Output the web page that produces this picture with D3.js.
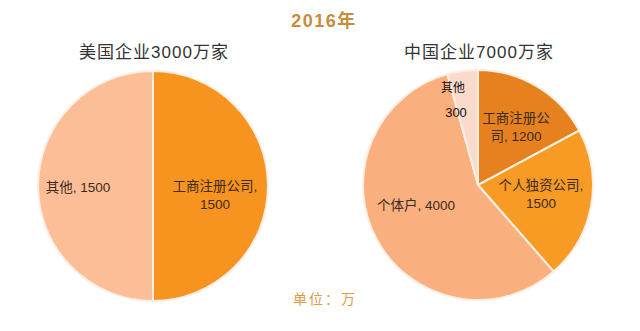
<!DOCTYPE html>
<html><head><meta charset="utf-8">
<script src="https://cdn.jsdelivr.net/npm/d3@7"></script>
<style>body{margin:0;background:#fff;}svg{display:block;font-family:"Liberation Sans","Noto Sans CJK SC",sans-serif;}</style>
</head><body>
<svg id="c" width="640" height="331"></svg>
<script>
const title = "2016年";
const unitLabel = "单位：万";
const usTitle = "美国企业3000万家";
const usCategories = ["工商注册公司", "其他"];
const usValues = [1500, 1500];
const cnTitle = "中国企业7000万家";
const cnCategories = ["工商注册公司", "个人独资公司", "个体户", "其他"];
const cnValues = [1200, 1500, 4000, 300];

const usColors = ["#F7931F", "#FBBE96"];
const cnColors = ["#E5821F", "#F89B25", "#F9B07E", "#FBDACB"];

const svg = d3.select("#c");
svg.append("text").attr("x", 324).attr("y", 27).attr("text-anchor", "middle")
  .attr("font-size", 18).attr("font-weight", "bold").attr("letter-spacing", 1.5)
  .attr("fill", "#C98B3C").text(title);
svg.append("text").attr("x", 325).attr("y", 304).attr("text-anchor", "middle")
  .attr("font-size", 14).attr("letter-spacing", 2).attr("fill", "#E39A45").text(unitLabel);

const R = 115;
const pie = d3.pie().sort(null).value(d => d.v);
const arc = d3.arc().innerRadius(0).outerRadius(R);

function drawPie(cx, cy, cats, vals, colors, ttl, labels) {
  svg.append("text").attr("x", cx + 1).attr("y", 58).attr("text-anchor", "middle")
    .attr("font-size", 17).attr("letter-spacing", 1).attr("fill", "#333").text(ttl);
  const g = svg.append("g").attr("transform", `translate(${cx},${cy})`);
  const data = cats.map((c, i) => ({c, v: vals[i], col: colors[i]}));
  g.selectAll("path").data(pie(data)).join("path")
    .attr("d", arc).attr("fill", d => d.data.col)
    .attr("stroke", "#FDEFE4").attr("stroke-width", 2);
  labels.forEach(l => {
    l.lines.forEach((s, k) => g.append("text").attr("text-anchor", l.anchor || "middle")
      .attr("font-size", l.size || 13.5).attr("fill", l.fill || "#3D2B1C")
      .attr("x", l.dx).attr("y", l.dy + k * 18).text(s));
  });
}

drawPie(153, 186, usCategories, usValues, usColors, usTitle, [
  {dx: -75, dy: 6, lines: [`${usCategories[1]}, ${usValues[1]}`]},
  {dx: 62, dy: 5, lines: [usCategories[0] + ",", String(usValues[0])]}
]);

drawPie(478, 185, cnCategories, cnValues, cnColors, cnTitle, [
  {dx: 38, dy: -62, lines: [cnCategories[0].slice(0,5), "司, " + cnValues[0]]},
  {dx: 63, dy: 5, lines: [cnCategories[1] + ",", String(cnValues[1])]},
  {dx: -62, dy: 25, lines: [`${cnCategories[2]}, ${cnValues[2]}`]},
  {dx: -25, dy: -93, lines: [cnCategories[3]], fill: "#111", size: 12},
  {dx: -22, dy: -68, lines: [String(cnValues[3])], fill: "#111", size: 13}
]);
</script>
</body></html>
